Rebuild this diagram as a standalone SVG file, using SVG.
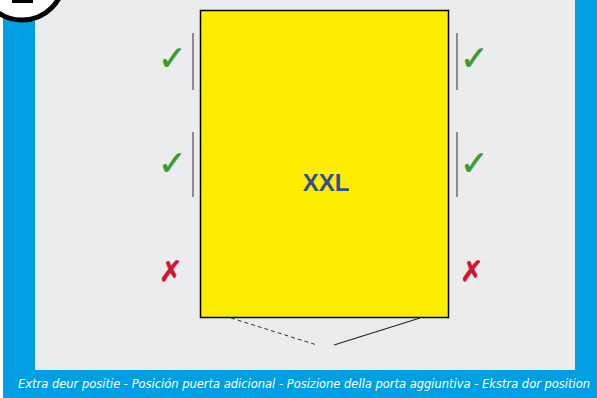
<svg xmlns="http://www.w3.org/2000/svg" width="597" height="398" viewBox="0 0 597 398">
<style>
.chk{font-family:"DejaVu Sans",sans-serif;font-size:34px;fill:#3c9b2d;stroke:#3c9b2d;stroke-width:0.6}
.x{font-family:"DejaVu Sans",sans-serif;font-size:28px;fill:#d0142c;stroke:#d0142c;stroke-width:0.8}
.bar{stroke:#8a8a8a;stroke-width:2}
</style>
<rect x="0" y="0" width="597" height="398" fill="#ffffff"/>
<rect x="3" y="0" width="594" height="398" fill="#009fe3"/>
<rect x="35" y="0" width="540" height="370" fill="#ebeced"/>
<g id="badge">
<circle cx="22" cy="-22" r="42" fill="#ffffff" stroke="#000000" stroke-width="5"/>
<rect x="12" y="0" width="21" height="3" fill="#000000"/>
</g>
<g id="cabinet">
<rect x="200.5" y="10.5" width="248" height="307" fill="#ffed00" stroke="#000000" stroke-width="1.5"/>
<text x="326" y="191" text-anchor="middle" font-family="Liberation Sans, Arial, sans-serif" font-weight="bold" font-size="24" fill="#34508f">XXL</text>
</g>
<g id="left-marks">
<line class="bar" x1="193" y1="33" x2="193" y2="90"/>
<line class="bar" x1="193" y1="132" x2="193" y2="197"/>
<text class="chk" x="158" y="70">✓</text>
<text class="chk" x="158" y="175">✓</text>
<text class="x" x="159" y="281">✗</text>
</g>
<g id="right-marks">
<line class="bar" x1="457" y1="33" x2="457" y2="90"/>
<line class="bar" x1="457" y1="132" x2="457" y2="197"/>
<text class="chk" x="460" y="70">✓</text>
<text class="chk" x="460" y="175">✓</text>
<text class="x" x="460" y="281">✗</text>
</g>
<g id="connectors">
<line x1="231" y1="318" x2="317" y2="345" stroke="#333333" stroke-width="1" stroke-dasharray="4,3"/>
<line x1="334" y1="345" x2="420" y2="318" stroke="#222222" stroke-width="1.2"/>
</g>
<text x="18" y="388" font-family="DejaVu Sans, sans-serif" font-style="italic" font-size="12" fill="#ffffff" textLength="572" lengthAdjust="spacingAndGlyphs">Extra deur positie - Posición puerta adicional - Posizione della porta aggiuntiva - Ekstra dor position</text>
</svg>
